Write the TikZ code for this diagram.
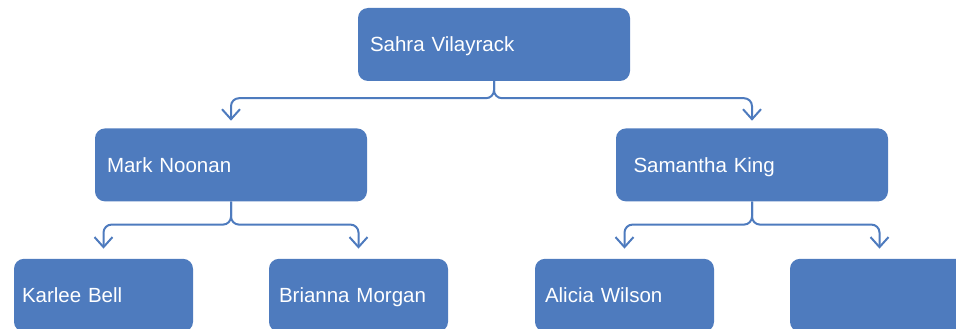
\documentclass[tikz,border=0pt]{standalone}
\usepackage{fontspec}
\setmainfont{Liberation Sans}
\usepackage{xcolor}
\usepackage{tikz}
\usetikzlibrary{arrows.meta,positioning}

\definecolor{orgblue}{RGB}{78,123,190}
\newcommand\namefont{\fontsize{20.5}{24}\selectfont}

\begin{document}
\begin{tikzpicture}[x=1pt,y=1pt,
    person/.style={rectangle,rounded corners=10pt,fill=orgblue,text=white,
        font=\namefont,align=left,
        minimum height=73pt,text height=14.7pt,text depth=0pt,inner ysep=0pt},
    bigbox/.style={person,text width=248pt,inner xsep=12pt},
    smallbox/.style={person,text width=159pt,inner xsep=10pt},
    link/.style={draw=orgblue,line width=2pt,rounded corners=8pt,
        -{Straight Barb[length=10pt,width=18pt,line width=2pt]}}]

\useasboundingbox (0,0) rectangle (956,-329);

\node[bigbox] (sahra) at (494,-44.5) {Sahra Vilayrack};
\node[bigbox] (mark) [below=47pt of sahra,xshift=-263pt] {Mark Noonan};
\node[bigbox,text width=237pt,inner xsep=17.5pt] (samantha)
    [below=47pt of sahra,xshift=258pt] {Samantha King};

\node[smallbox,text width=163pt,inner xsep=8pt] (karlee)
    [below=57pt of mark,xshift=-127.5pt] {Karlee Bell};
\node[smallbox] (brianna) [below=57pt of mark,xshift=127.5pt] {Brianna Morgan};
\node[smallbox] (alicia) [below=57pt of samantha,xshift=-127.5pt] {Alicia Wilson};
\node[smallbox] (vacant) [below=57pt of samantha,xshift=127.5pt] {};

\path[link,shorten >=7.5pt] (sahra.south) -- ++(0,-17) -| (mark.north);
\path[link,shorten >=7.5pt] (sahra.south) -- ++(0,-17) -| (samantha.north);

\path[link,shorten >=10pt] (mark.south) -- ++(0,-23) -| (karlee.north);
\path[link,shorten >=10pt] (mark.south) -- ++(0,-23) -| (brianna.north);
\path[link,shorten >=10pt] (samantha.south) -- ++(0,-23) -| (alicia.north);
\path[link,shorten >=10pt] (samantha.south) -- ++(0,-23) -| (vacant.north);

\end{tikzpicture}
\end{document}
